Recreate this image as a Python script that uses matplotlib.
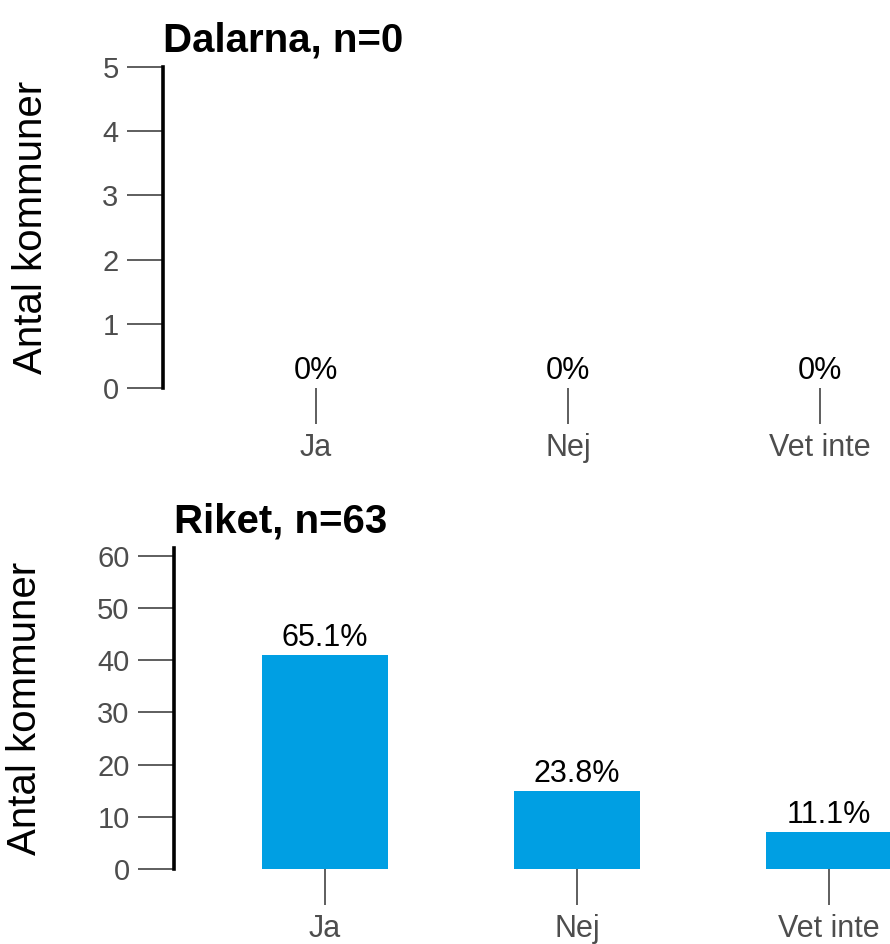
import numpy as np
import matplotlib
matplotlib.use("Agg")
import matplotlib.pyplot as plt

plt.rcParams['font.family'] = ['Liberation Sans', 'DejaVu Sans']

categories = ["Ja", "Nej", "Vet inte"]
dalarna_counts = [0, 0, 0]
riket_counts = [41, 15, 7]
dalarna_title = "Dalarna, n=0"
riket_title = "Riket, n=63"
ylabel = "Antal kommuner"

bar_color = "#009FE3"
tick_color = "#333333"
label_color = "#4D4D4D"

W, H = 890, 944
fig = plt.figure(figsize=(W / 100, H / 100), dpi=100)


def px_axes(left, top, right, bottom):
    return fig.add_axes([left / W, 1 - bottom / H, (right - left) / W, (bottom - top) / H])


def draw_panel(ax, counts, title, yticks, ymax, xlim):
    x = np.arange(len(categories))
    n = sum(counts)
    ax.bar(x, counts, width=0.5, color=bar_color, zorder=2)
    for xi, c in zip(x, counts):
        txt = "0%" if n == 0 else "%.1f%%" % (100 * c / n)
        ax.annotate(txt, (xi, c), xytext=(0, 1.5), textcoords="offset points",
                    ha="center", va="bottom", fontsize=22, color="black")
    ax.set_xlim(*xlim)
    ax.set_ylim(0, ymax)
    ax.set_xticks(x)
    ax.set_xticklabels(categories)
    ax.set_yticks(yticks)
    for s in ["top", "right", "bottom"]:
        ax.spines[s].set_visible(False)
    ax.spines["left"].set_linewidth(2.6)
    ax.spines["left"].set_color("black")
    ax.tick_params(axis="both", length=26, width=1.1, color=tick_color,
                   labelcolor=label_color)
    ax.tick_params(axis="y", pad=6, labelsize=21)
    ax.tick_params(axis="x", pad=6.5, labelsize=22)
    ax.set_title(title, loc="left", fontsize=29, fontweight="bold", pad=11)
    ax.set_ylabel(ylabel, fontsize=29, labelpad=38)
    ax.patch.set_visible(False)


ax1 = px_axes(163, 67, 890, 388)
draw_panel(ax1, dalarna_counts, dalarna_title, range(0, 6), 5, (-0.607, 2.278))

ax2 = px_axes(174, 548, 890, 869)
draw_panel(ax2, riket_counts, riket_title, range(0, 61, 10), max(riket_counts) * 1.5, (-0.6, 2.242))

fig.savefig("out.png", dpi=100, facecolor="white")
